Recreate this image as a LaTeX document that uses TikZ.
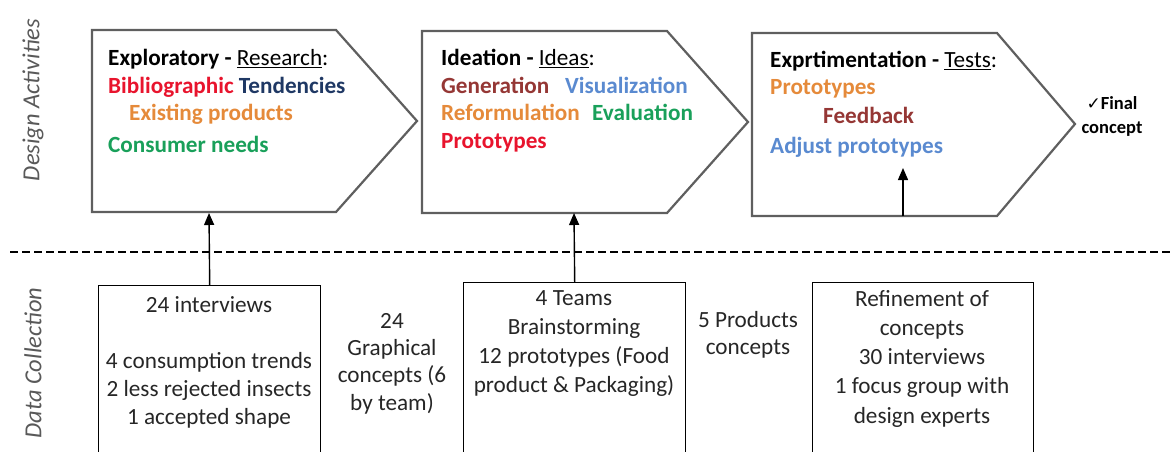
\documentclass[tikz,border=0pt]{standalone}
\usepackage{fontspec}
\setmainfont{Carlito}
\newfontfamily\symfnt{DejaVu Sans}
\usetikzlibrary{arrows.meta}
\definecolor{pentgray}{RGB}{95,95,95}
\definecolor{sidegray}{RGB}{89,89,89}
\definecolor{txtgray}{RGB}{38,38,38}
\definecolor{cred}{RGB}{232,20,45}
\definecolor{cnavy}{RGB}{31,56,100}
\definecolor{corange}{RGB}{229,138,58}
\definecolor{cgreen}{RGB}{25,160,90}
\definecolor{cbrown}{RGB}{149,55,53}
\definecolor{cblue}{RGB}{90,138,208}
\newcommand\mainsz{\fontsize{23.2}{28}\selectfont}
\begin{document}
\begin{tikzpicture}[x=1pt,y=-1pt,
  pent/.style={draw=pentgray, line width=2.2pt, line join=miter},
  hdr/.style={anchor=base west, inner sep=0pt, font=\mainsz, text=black},
  item/.style={anchor=base west, inner sep=0pt, font=\mainsz\bfseries},
  dbox/.style={draw=black, line width=1.4pt, anchor=north west, minimum width=222pt, minimum height=220pt, inner sep=0pt},
  dtext/.style={align=center, inner sep=0pt, anchor=base, text=txtgray},
  side/.style={rotate=90, inner sep=0pt, text=sidegray, font=\fontsize{24.5}{28}\selectfont\itshape},
  link/.style={draw=black, line width=1.4pt, -{Triangle[length=12pt,width=10pt]}},
  sep/.style={draw=black, line width=1.5pt, dash pattern=on 8pt off 4pt}
]
\useasboundingbox (0,0) rectangle (1173,452);
\clip (0,0) rectangle (1173,452);

% side labels
\node[side] (sda) at (33,100) {Design Activities};
\node[side] (sdc) at (33,363) {Data Collection};

% pentagons
\draw[pent] (92,30) -- (336,30) -- (417,121) -- (336,212) -- (92,212) -- cycle;
\draw[pent] (422,31) -- (667,31) -- (748,122) -- (667,213) -- (422,213) -- cycle;
\draw[pent] (752,33) -- (997,33) -- (1075,124) -- (997,216) -- (752,216) -- cycle;

% pentagon 1 text
\node[hdr] (h1) at (108,66) {\textbf{Exploratory -} \underline{Research}:};
\node[item] (l1a) at (108,93) {\textcolor{cred}{Bibliographic} \textcolor{cnavy}{Tendencies}};
\node[item, text=corange] (l1b) at (129,121) {Existing products};
\node[item, text=cgreen] (l1c) at (108,152) {Consumer needs};

% pentagon 2 text
\node[hdr] (h2) at (441,66) {\textbf{Ideation -} \underline{Ideas}:};
\node[item, text=cbrown] (l2a) at (441,93) {Generation};
\node[item, text=cblue] (l2b) at (565,93) {Visualization};
\node[item, text=corange] (l2c) at (441,121) {Reformulation};
\node[item, text=cgreen] (l2d) at (592,121) {Evaluation};
\node[item, text=cred] (l2e) at (441,148) {Prototypes};

% pentagon 3 text
\node[hdr] (h3) at (770,68) {\textbf{Exprtimentation -} \underline{Tests}:};
\node[item, text=corange] (l3a) at (770,95) {Prototypes};
\node[item, text=cbrown] (l3b) at (823,123) {Feedback};
\node[item, text=cblue] (l3c) at (770,153) {Adjust prototypes};

% final concept (base anchor = last line)
\node[align=center, inner sep=0pt, anchor=base, font=\fontsize{18.5}{24}\selectfont\bfseries] (fc) at (1112,133) {{\symfnt\mdseries\fontsize{17}{24}\selectfont ✓}Final\\concept};

% separator
\coordinate (dl) at (10,252);
\coordinate (dr) at (1173,252);
\draw[sep] (dl) -- (dr);

% data boxes
\node[dbox] (B1) at (98,285) {};
\node[dbox] (B2) at (463,282) {};
\node[dbox, minimum width=221pt] (B3) at (812,282) {};

% multi-line texts: base anchor is the baseline of the last line
\node[dtext, font=\fontsize{23.2}{28}\selectfont] (t1) at (209,424) {24 interviews\\[28pt]4 consumption trends\\2 less rejected insects\\1 accepted shape};
\node[dtext, font=\fontsize{23.2}{27.3}\selectfont] (tg) at (392,410) {24\\Graphical\\concepts (6\\by team)};
\node[dtext, font=\fontsize{23.2}{28.7}\selectfont] (t2) at (574,392) {4 Teams\\Brainstorming\\12 prototypes (Food\\product \& Packaging)};
\node[dtext, font=\fontsize{23.2}{27}\selectfont] (tp) at (748,354) {5 Products\\concepts};
\node[dtext, font=\fontsize{23.2}{29.2}\selectfont] (t3) at (922,423) {Refinement of\\concepts\\30 interviews\\1 focus group with\\design experts};

% connectors
\coordinate (p1b) at (209,213);
\coordinate (p2b) at (574,213);
\coordinate (p3b) at (903,216);
\coordinate (a3t) at (903,168);
\draw[link] (B1.north) -- (p1b);
\draw[link] (B2.north) -- (p2b);
\draw[link] (p3b) -- (a3t);
\end{tikzpicture}
\end{document}
